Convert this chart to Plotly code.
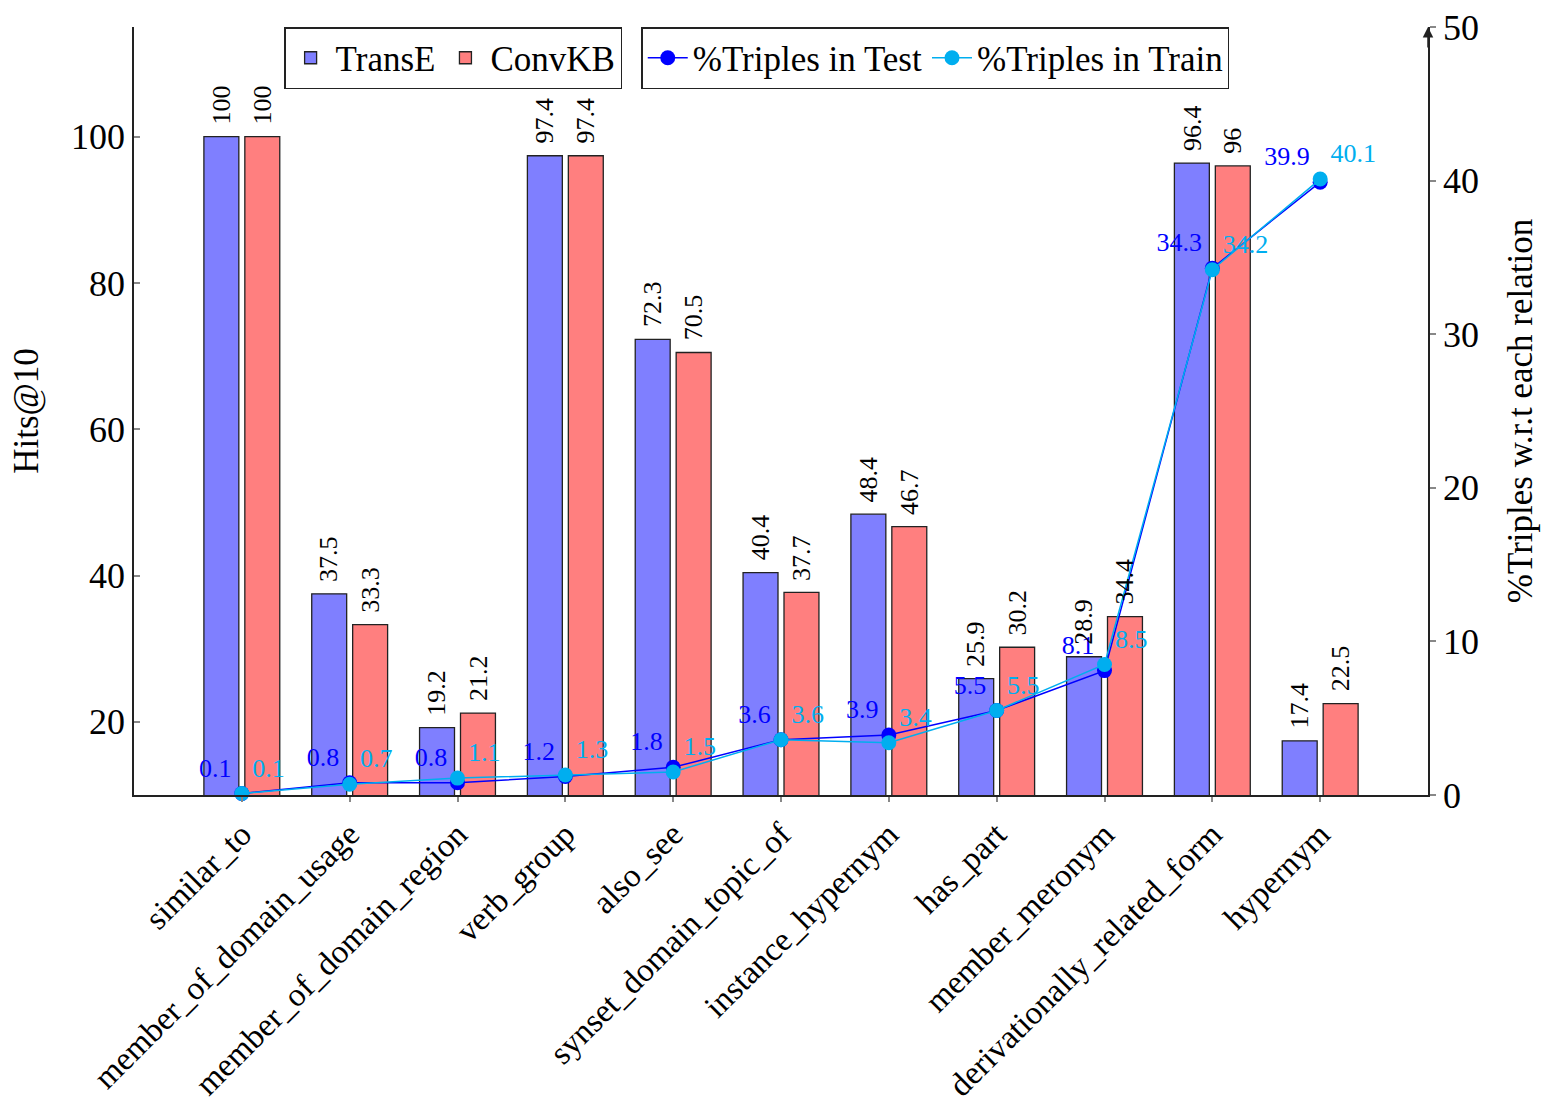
import plotly.graph_objects as go

# Relations (x categories)
relations = [
    "similar_to", "member_of_domain_usage", "member_of_domain_region",
    "verb_group", "also_see", "synset_domain_topic_of", "instance_hypernym",
    "has_part", "member_meronym", "derivationally_related_form", "hypernym",
]

# Hits@10 per relation
transe_hits = [100, 37.5, 19.2, 97.4, 72.3, 40.4, 48.4, 25.9, 28.9, 96.4, 17.4]
convkb_hits = [100, 33.3, 21.2, 97.4, 70.5, 37.7, 46.7, 30.2, 34.4, 96, 22.5]

# Share of triples per relation (%)
pct_test = [0.1, 0.8, 0.8, 1.2, 1.8, 3.6, 3.9, 5.5, 8.1, 34.3, 39.9]
pct_train = [0.1, 0.7, 1.1, 1.3, 1.5, 3.6, 3.4, 5.5, 8.5, 34.2, 40.1]

FONT = "Liberation Serif"
BLUE_BAR = "#7f7fff"
RED_BAR = "#ff7f7f"
TEST_C = "#0000ff"
TRAIN_C = "#00aeef"

idx = list(range(len(relations)))
BAR_OFF = 0.19  # half distance between paired bar centres, in category units

fig = go.Figure()

fig.add_trace(go.Bar(
    x=idx, y=transe_hits, name="TransE",
    marker=dict(color=BLUE_BAR, line=dict(color="#222222", width=1.3)),
    legend="legend",
))
fig.add_trace(go.Bar(
    x=idx, y=convkb_hits, name="ConvKB",
    marker=dict(color=RED_BAR, line=dict(color="#222222", width=1.3)),
    legend="legend",
))

fig.add_trace(go.Scatter(
    x=idx, y=pct_test, name="%Triples in Test", yaxis="y2",
    mode="lines+markers+text",
    line=dict(color=TEST_C, width=1.5),
    marker=dict(color=TEST_C, size=15),
    text=[f"{v:g}" for v in pct_test], textposition="top left",
    textfont=dict(family=FONT, size=26, color=TEST_C),
    cliponaxis=False, legend="legend2",
))
fig.add_trace(go.Scatter(
    x=idx, y=pct_train, name="%Triples in Train", yaxis="y2",
    mode="lines+markers+text",
    line=dict(color=TRAIN_C, width=1.5),
    marker=dict(color=TRAIN_C, size=15),
    text=[f"{v:g}" for v in pct_train], textposition="top right",
    textfont=dict(family=FONT, size=26, color=TRAIN_C),
    cliponaxis=False, legend="legend2",
))

annotations = []
# Rotated value labels above each bar
for i in idx:
    for off, val in ((-BAR_OFF, transe_hits[i]), (BAR_OFF, convkb_hits[i])):
        annotations.append(dict(
            x=i + off, y=val, xref="x", yref="y",
            text=f"{val:g}", showarrow=False, textangle=-90,
            xanchor="center", yanchor="bottom", yshift=10,
            font=dict(family=FONT, size=26, color="black"),
        ))
# Arrow tip on the secondary axis
annotations.append(dict(
    x=1, y=1, xref="paper", yref="paper", text="", showarrow=True,
    ax=0, ay=22, arrowhead=2, arrowsize=1.4, arrowwidth=1.5, arrowcolor="#222222",
))

fig.update_layout(
    width=1542, height=1110,
    margin=dict(l=134, r=114, t=27, b=315, autoexpand=False),
    paper_bgcolor="white", plot_bgcolor="white",
    barmode="group", bargap=1 - 82 / 108, bargroupgap=6 / 41,
    font=dict(family=FONT, size=34, color="black"),
    showlegend=True,
    xaxis=dict(
        range=[-1, 11], tickvals=idx, ticktext=relations, tickangle=-45,
        showline=True, linecolor="#222222", linewidth=1.5,
        ticks="outside", ticklen=5, tickcolor="#888888", tickwidth=1.5,
        showgrid=False, zeroline=False,
        tickfont=dict(family=FONT, size=33),
    ),
    yaxis=dict(
        range=[10, 115], tickvals=[20, 40, 60, 80, 100],
        showline=True, linecolor="#222222", linewidth=1.5,
        ticks="inside", ticklen=6, tickcolor="#888888", tickwidth=1.5,
        showgrid=False, zeroline=False,
        title=dict(text="Hits@10", font=dict(family=FONT, size=35), standoff=22),
        tickfont=dict(family=FONT, size=36),
    ),
    yaxis2=dict(
        range=[0, 50], overlaying="y", side="right", dtick=10,
        showline=True, linecolor="#222222", linewidth=1.5,
        ticks="outside", ticklen=6, tickcolor="#888888", tickwidth=1.5,
        showgrid=False, zeroline=False,
        title=dict(text="%Triples w.r.t each relation",
                   font=dict(family=FONT, size=35), standoff=30),
        tickfont=dict(family=FONT, size=36),
    ),
    legend=dict(
        x=0.116, y=1, xanchor="left", yanchor="top", orientation="h",
        bgcolor="white", bordercolor="#222222", borderwidth=1.5,
        font=dict(family=FONT, size=35), itemwidth=40,
    ),
    legend2=dict(
        x=0.392, y=1, xanchor="left", yanchor="top", orientation="h",
        bgcolor="white", bordercolor="#222222", borderwidth=1.5,
        font=dict(family=FONT, size=35), itemwidth=40,
    ),
    annotations=annotations,
)

fig.write_html("out.html")
